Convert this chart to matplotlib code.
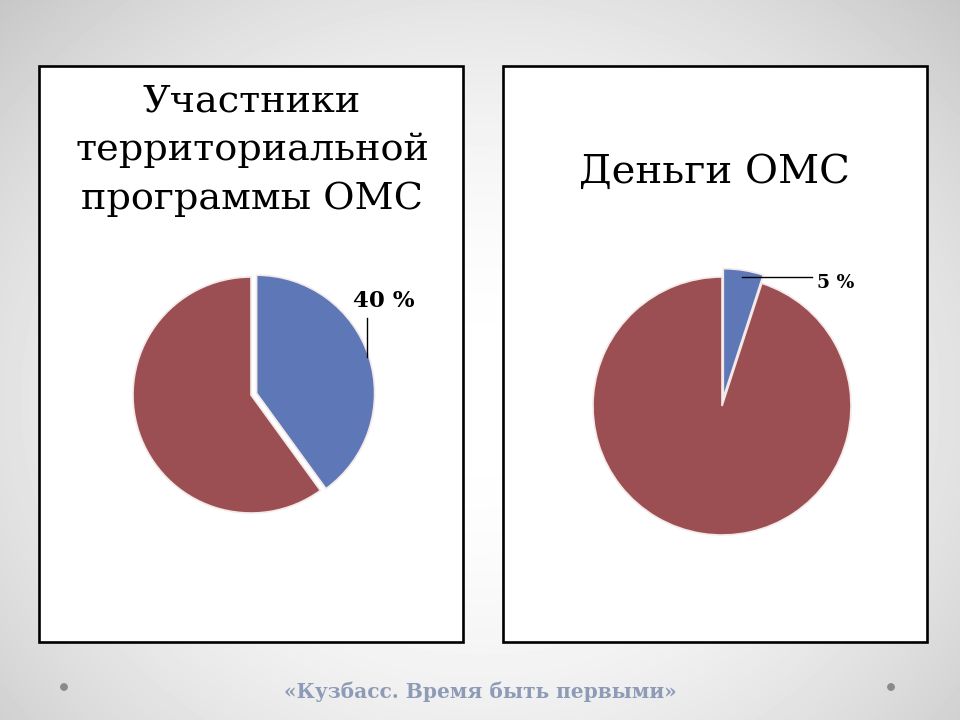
import matplotlib
matplotlib.use("Agg")
import matplotlib.pyplot as plt
from matplotlib.patches import Rectangle, Circle
import numpy as np

# Data
left_title = "Участники\nтерриториальной\nпрограммы ОМС"
left_values = [40, 60]
left_labels = ["40 %", ""]
right_title = "Деньги ОМС"
right_values = [5, 95]
right_labels = ["5 %", ""]
footer = "«Кузбасс. Время быть первыми»"

colors = ["#5E77B6", "#9B4F52"]
W, H = 960, 720

fig = plt.figure(figsize=(W / 100, H / 100), dpi=100)

# Background axes in pixel coordinates (y downwards)
bg = fig.add_axes([0, 0, 1, 1], zorder=0)
bg.set_xlim(0, W)
bg.set_ylim(H, 0)
bg.axis("off")

yy, xx = np.mgrid[0:H, 0:W]
d = np.sqrt(((xx - 480) / 600.0) ** 2 + ((yy - 400) / 520.0) ** 2)
shade = np.clip(1.0 - 0.18 * d ** 2, 0, 1)
bg.imshow(shade, cmap="gray", vmin=0, vmax=1, extent=(0, W, H, 0), aspect="auto")

# Panels
for x0 in (39, 503):
    bg.add_patch(Rectangle((x0, 66), 424, 576, facecolor="white",
                           edgecolor="black", linewidth=1.9, zorder=2))

title_font = dict(family="DejaVu Serif", fontsize=27.5, color="black",
                  ha="center", va="center", zorder=3)
bg.text(252, 150, left_title, linespacing=1.45, **title_font)
bg.text(714, 172, right_title, **dict(title_font, fontsize=29))

# Footer and dots
bg.text(480, 692, footer, family="DejaVu Serif", fontweight="bold",
        fontsize=14.5, color="#8D9BB6", ha="center", va="center", zorder=3)
for x in (64, 891):
    bg.add_patch(Circle((x, 687), 3.2, color="#8a8a8a", zorder=3))


def draw_pie(cx, cy, r, values, labels, explode, line_r, line_end, text_pos, fs):
    pad = 1.25
    side = 2 * r * pad
    ax = fig.add_axes([(cx - side / 2) / W, 1 - (cy + side / 2) / H, side / W, side / H],
                      zorder=5)
    ax.set_xlim(-pad, pad)
    ax.set_ylim(-pad, pad)
    ax.axis("off")
    wedges, _ = ax.pie(values, colors=colors, startangle=90, counterclock=False,
                       explode=explode, radius=1.0,
                       wedgeprops=dict(edgecolor="#f3e9e9", linewidth=1.2))
    # leader line from the first slice (at its mid angle) and its label
    w = wedges[0]
    ang = np.radians((w.theta1 + w.theta2) / 2)
    ox, oy = w.center
    px, py = ox + line_r * np.cos(ang), oy + line_r * np.sin(ang)
    if line_end[0] is None:
        ex, ey = px, (cy - line_end[1]) / r
    else:
        ex, ey = (line_end[0] - cx) / r, py
    ax.plot([px, ex], [py, ey], color="black", lw=1.0)
    ax.text((text_pos[0] - cx) / r, (cy - text_pos[1]) / r, labels[0],
            fontsize=fs, family="DejaVu Serif", fontweight="bold",
            ha="left", va="center")
    return ax


draw_pie(251, 395, 118, left_values, left_labels, [0.05, 0], line_r=0.98,
         line_end=(None, 318), text_pos=(353, 301), fs=16.5)
draw_pie(722, 406, 129, right_values, right_labels, [0.065, 0], line_r=0.95,
         line_end=(812, None), text_pos=(817, 283), fs=13.5)

fig.savefig("out.png", dpi=100)
